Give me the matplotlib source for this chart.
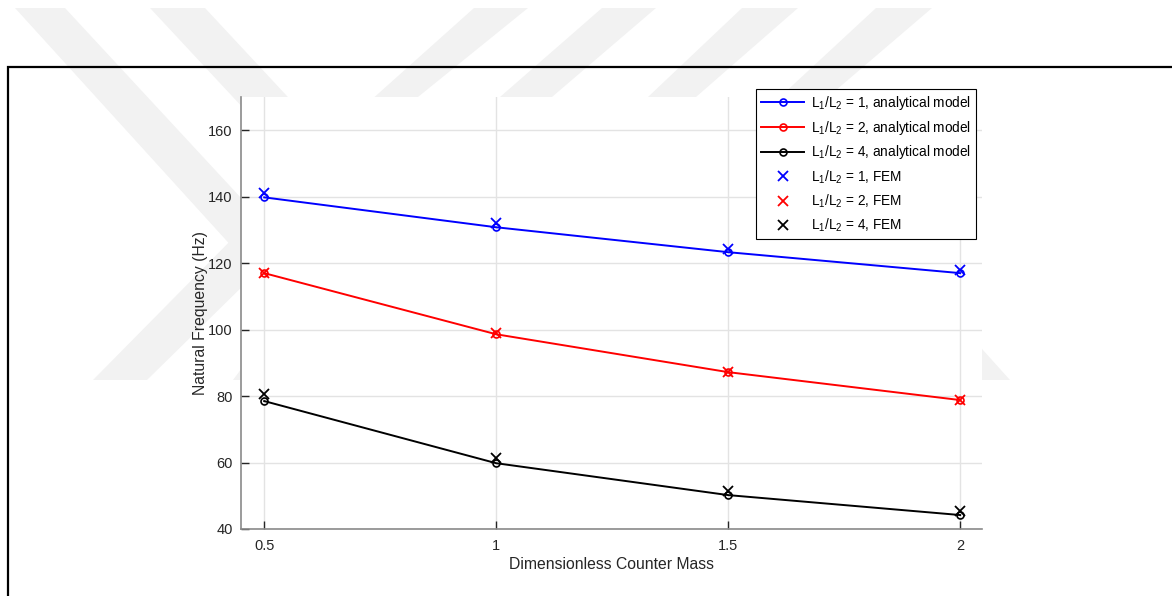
import matplotlib
matplotlib.use("Agg")
import matplotlib.pyplot as plt
from matplotlib.patches import Polygon, Rectangle

plt.rcParams['font.family'] = ['Liberation Sans', 'DejaVu Sans']
plt.rcParams['mathtext.fontset'] = 'custom'
plt.rcParams['mathtext.rm'] = 'Liberation Sans'
plt.rcParams['mathtext.it'] = 'Liberation Sans'

# ---------------- data ----------------
counter_mass = [0.5, 1.0, 1.5, 2.0]
analytical_r1 = [139.8, 130.8, 123.3, 117.0]
analytical_r2 = [117.0, 98.6, 87.2, 78.8]
analytical_r4 = [78.5, 59.8, 50.2, 44.2]
fem_r1 = [141.0, 132.0, 124.4, 117.9]
fem_r2 = [117.0, 99.0, 87.2, 78.8]
fem_r4 = [80.6, 61.5, 51.4, 45.4]
series_colors = ['#0000ff', '#ff0000', '#000000']
analytical_labels = [r'L$_1$/L$_2$ = 1, analytical model',
                     r'L$_1$/L$_2$ = 2, analytical model',
                     r'L$_1$/L$_2$ = 4, analytical model']
fem_labels = [r'L$_1$/L$_2$ = 1, FEM', r'L$_1$/L$_2$ = 2, FEM', r'L$_1$/L$_2$ = 4, FEM']
xticks = [0.5, 1, 1.5, 2]
xticklabels = ['0.5', '1', '1.5', '2']
yticks = [40, 60, 80, 100, 120, 140, 160]

W, H = 1172, 596
fig = plt.figure(figsize=(W / 100, H / 100), dpi=100)
fig.patch.set_facecolor('white')

def px(pts):
    return [(x / W, 1 - y / H) for x, y in pts]

# faint background watermark
wm = '#f2f2f2'
shapes = [
    [(15, 8), (65, 8), (280, 240), (235, 250)],
    [(150, 8), (205, 8), (300, 110), (245, 110)],
    [(474, 8), (528, 8), (418, 97), (365, 97), (360, 110)],
    [(602, 8), (656, 8), (552, 97), (500, 97)],
    [(742, 8), (798, 8), (696, 97), (648, 97)],
    [(876, 8), (932, 8), (828, 97), (780, 97)],
    [(241, 230), (300, 230), (147, 380), (93, 380)],
    [(270, 330), (300, 330), (260, 380), (233, 380)],
    [(930, 330), (965, 330), (1010, 380), (975, 380)],
]
for s in shapes:
    fig.patches.append(Polygon(px(s), closed=True, transform=fig.transFigure,
                               facecolor=wm, edgecolor='none', zorder=0))

# black frame
fig.patches.append(Rectangle((8 / W, -0.05), 1.2, 1 - 67 / H + 0.05,
                             transform=fig.transFigure, fill=False,
                             edgecolor='black', linewidth=1.6, zorder=1))

ax = fig.add_axes([241 / W, 1 - 529 / H, (982 - 241) / W, (529 - 97) / H])
ax.set_facecolor('white')
ax.set_zorder(2)

analytical = [analytical_r1, analytical_r2, analytical_r4]
fem = [fem_r1, fem_r2, fem_r4]
for vals, c, lab in zip(analytical, series_colors, analytical_labels):
    ax.plot(counter_mass, vals, color=c, linewidth=1.4, marker='o', markersize=5,
            markerfacecolor='none', markeredgewidth=1.2, label=lab, zorder=3)
for vals, c, lab in zip(fem, series_colors, fem_labels):
    ax.plot(counter_mass, vals, linestyle='none', color=c, marker='x', markersize=7,
            markeredgewidth=1.3, label=lab, zorder=4)

ax.set_xlim(0.45, 2.047)
ax.set_ylim(40, 170)
ax.set_xticks(xticks)
ax.set_xticklabels(xticklabels)
ax.set_yticks(yticks)
ax.grid(True, color='#e3e3e3', linewidth=1.0)
ax.set_axisbelow(True)
for side in ['top', 'right']:
    ax.spines[side].set_visible(False)
for side in ['left', 'bottom']:
    ax.spines[side].set_color('#8a8a8a')
    ax.spines[side].set_linewidth(1.2)
ax.tick_params(direction='in', length=6, width=1.0, color='#262626',
               labelcolor='#262626', labelsize=10.5)
ax.tick_params(axis='x', pad=7)
ax.tick_params(axis='y', pad=6)
ax.set_xlabel('Dimensionless Counter Mass', fontsize=11.3, color='#262626', labelpad=3)
ax.set_ylabel('Natural Frequency (Hz)', fontsize=11.3, color='#262626', labelpad=0)

leg = ax.legend(loc='upper right', bbox_to_anchor=(976 / W, 1 - 89 / H),
                bbox_transform=fig.transFigure, borderaxespad=0,
                fontsize=9.8, frameon=True, fancybox=False, edgecolor='black',
                framealpha=1, handlelength=3.2, handletextpad=0.5,
                labelspacing=0.5, borderpad=0.35)
leg.get_frame().set_linewidth(0.8)
leg.set_zorder(10)

fig.savefig('out.png', dpi=100)
